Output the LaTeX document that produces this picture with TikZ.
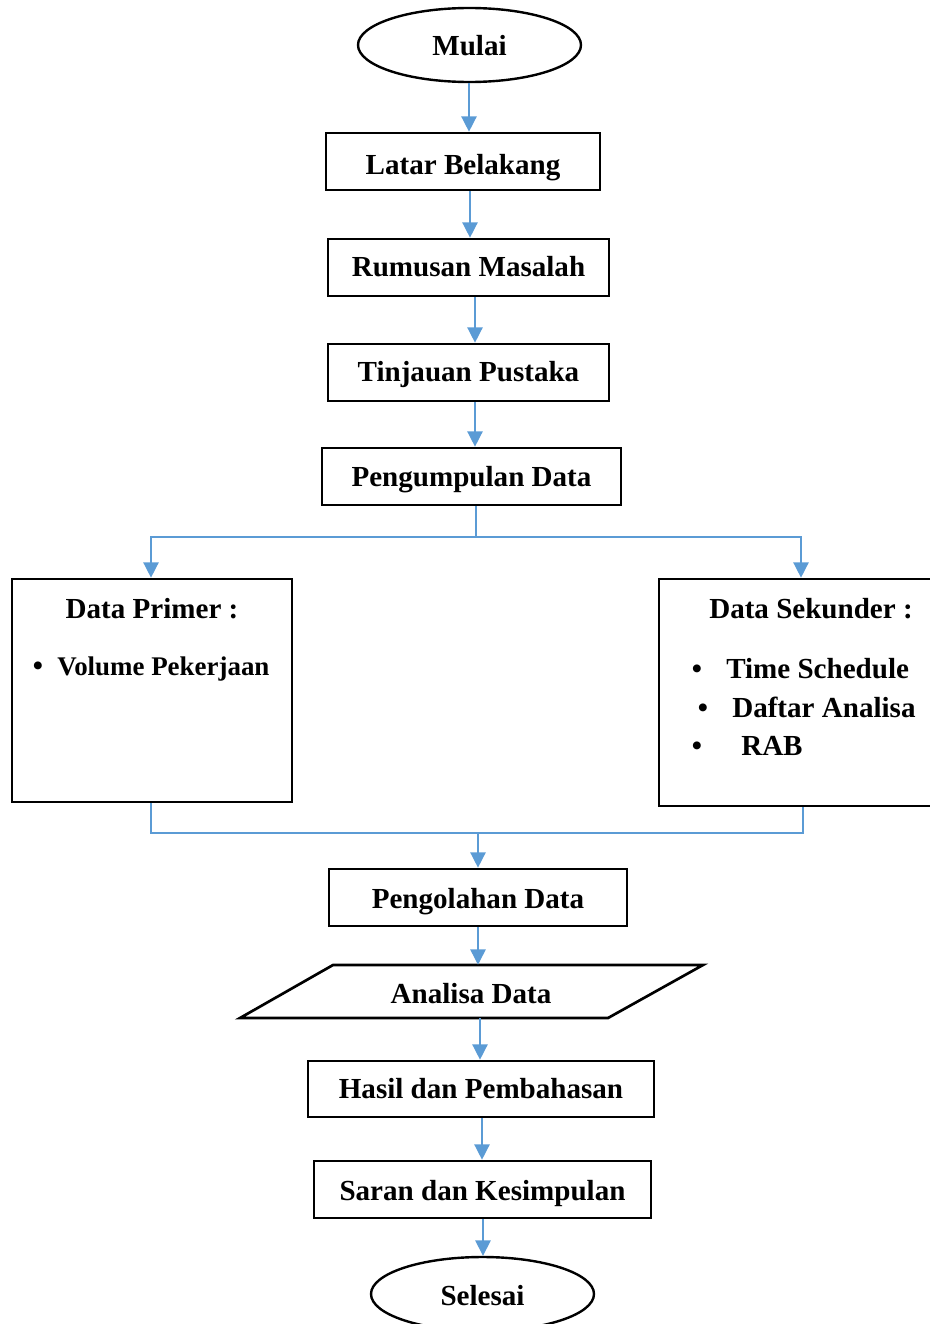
\documentclass[tikz,border=0pt]{standalone}
\usepackage{fontspec}
\setmainfont{Liberation Serif}
\usetikzlibrary{shapes.geometric,arrows.meta}
\definecolor{linkblue}{RGB}{91,155,213}
\newlength\pxu
\setlength\pxu{0.75pt}
\begin{document}
\begin{tikzpicture}[x=0.75pt,y=-0.75pt,
  every node/.style={font=\fontsize{21.8}{26}\selectfont\bfseries},
  bl/.style={text height=#1*1.5pt,text depth=0pt},
  boxnode/.style={draw,rectangle,line width=2pt,inner sep=0pt},
  term/.style={draw,ellipse,line width=1.8pt,inner sep=0pt,minimum width=223\pxu,minimum height=74\pxu},
  conn/.style={draw=linkblue,line width=1.1pt},
  arr/.style={conn,-{Triangle[length=11.5pt,width=11.5pt]}},
  txt/.style={inner sep=0pt}]
\useasboundingbox (0,0) rectangle (930,1324);

% terminals
\node[term,bl=10] (mulai) at (469.5,45) {Mulai};
\node[term,bl=11] (sel) at (482.5,1294) {Selesai};

% process boxes
\node[boxnode,bl=13,minimum width=274\pxu,minimum height=57\pxu] (lb) at (463,161.5) {Latar Belakang};
\node[boxnode,bl=9,minimum width=281\pxu,minimum height=57\pxu] (rm) at (468.5,267.5) {Rumusan Masalah};
\node[boxnode,bl=9,minimum width=281\pxu,minimum height=57\pxu] (tp) at (468.5,372.5) {Tinjauan Pustaka};
\node[boxnode,bl=10,minimum width=299\pxu,minimum height=57\pxu] (pd) at (471.5,476.5) {Pengumpulan Data};
\node[boxnode,minimum width=280\pxu,minimum height=223\pxu] (dp) at (152,690.5) {};
\node[boxnode,minimum width=282\pxu,minimum height=227\pxu] (ds) at (800,692.5) {};
\node[boxnode,bl=11,minimum width=298\pxu,minimum height=57\pxu] (po) at (478,897.5) {Pengolahan Data};
\node[boxnode,bl=9.3,minimum width=346\pxu,minimum height=56\pxu] (hp) at (481,1089) {Hasil dan Pembahasan};
\node[boxnode,bl=10.5,minimum width=337\pxu,minimum height=57\pxu] (sk) at (482.5,1189.5) {Saran dan Kesimpulan};

% parallelogram
\draw[line width=2pt,line join=miter] (333,965) -- (703,965) -- (608,1018) -- (240,1018) -- cycle;
\node[txt,bl=12,minimum width=370\pxu,minimum height=53\pxu] (ad) at (471,991.5) {Analisa Data};

% contents of data boxes
\node[txt,anchor=base] (dpt) at (152,618) {Data Primer :};
\node[txt,anchor=base] (dpb1) at (38,675) {\textbullet};
\node[txt,anchor=base west,font=\fontsize{20.2}{24}\selectfont\bfseries] (dpi1) at (57,675) {Volume Pekerjaan};

\node[txt,anchor=base] (dst) at (811,618) {Data Sekunder :};
\node[txt,anchor=base] (dsb1) at (697,678) {\textbullet};
\node[txt,anchor=base west] (dsi1) at (726,678) {Time Schedule};
\node[txt,anchor=base] (dsb2) at (703,717) {\textbullet};
\node[txt,anchor=base west] (dsi2) at (732,717) {Daftar Analisa};
\node[txt,anchor=base] (dsb3) at (697,755) {\textbullet};
\node[txt,anchor=base west] (dsi3) at (741,755) {RAB};

% connector x positions and junctions
\coordinate (x1) at (469,0);
\coordinate (x2) at (470,0);
\coordinate (x3) at (475,0);
\coordinate (j1) at (476,537);
\coordinate (xl) at (151,0);
\coordinate (xr) at (801,0);
\coordinate (xr2) at (803,0);
\coordinate (j2) at (478,833);
\coordinate (x8) at (480,0);
\coordinate (x9) at (482,0);
\coordinate (x10) at (483,0);

% connectors
\draw[arr] (mulai.south -| x1) -- (lb.north -| x1);
\draw[arr] (lb.south -| x2) -- (rm.north -| x2);
\draw[arr] (rm.south -| x3) -- (tp.north -| x3);
\draw[arr] (tp.south -| x3) -- (pd.north -| x3);
\draw[conn] (pd.south -| j1) -- (j1);
\draw[arr] (j1) -| (dp.north -| xl);
\draw[arr] (j1) -| (ds.north -| xr);
\draw[conn] (dp.south -| xl) |- (j2);
\draw[conn] (ds.south -| xr2) |- (j2);
\draw[arr] (j2) -- (po.north -| j2);
\draw[arr] (po.south -| j2) -- (ad.north -| j2);
\draw[arr] (ad.south -| x8) -- (hp.north -| x8);
\draw[arr] (hp.south -| x9) -- (sk.north -| x9);
\draw[arr] (sk.south -| x10) -- (sel.north -| x10);
\end{tikzpicture}
\end{document}
